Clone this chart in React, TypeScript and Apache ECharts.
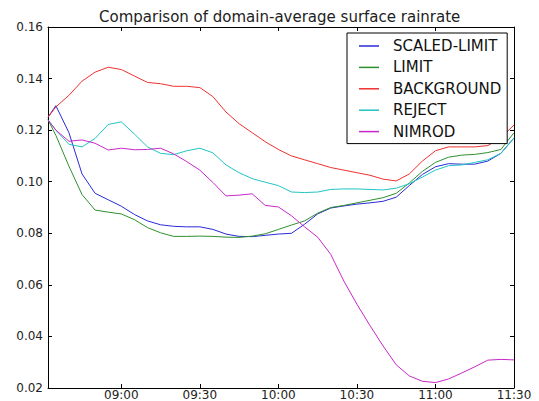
import React, { useEffect, useRef } from "react";
import * as echarts from "echarts";

// minutes since midnight
const times = [
  512, 515, 520, 525, 530, 535, 540, 545, 550, 555, 560, 565, 570, 575, 580, 585, 590, 595,
  600, 605, 610, 615, 620, 625, 630, 635, 640, 645, 650, 655, 660, 665, 670, 675, 680, 685, 690,
];

const scaledLimit = [
  0.125, 0.1295, 0.119, 0.103, 0.0955, 0.093, 0.0905, 0.0873, 0.0848, 0.0833, 0.0827, 0.0825,
  0.0825, 0.0815, 0.0797, 0.0788, 0.0787, 0.0792, 0.0797, 0.08, 0.0835, 0.0875, 0.0898, 0.0906,
  0.0913, 0.0918, 0.0924, 0.094, 0.0985, 0.1028, 0.1058, 0.107, 0.1068, 0.1068, 0.108, 0.111, 0.117,
];

const limit = [
  0.124, 0.118, 0.106, 0.095, 0.089, 0.0882, 0.0875, 0.0853, 0.0822, 0.0802, 0.0788, 0.0788,
  0.0789, 0.0788, 0.0785, 0.0784, 0.0789, 0.0798, 0.0815, 0.0832, 0.0848, 0.0878, 0.09, 0.0908,
  0.0918, 0.0928, 0.0938, 0.0955, 0.0995, 0.104, 0.1075, 0.1095, 0.1103, 0.1106, 0.1113, 0.1125, 0.119,
];

const background = [
  0.125, 0.129, 0.1335, 0.139, 0.1425, 0.1444, 0.1435, 0.141, 0.1385, 0.138, 0.137, 0.137,
  0.1365, 0.133, 0.127, 0.1225, 0.119, 0.1155, 0.1125, 0.11, 0.1085, 0.107, 0.1055, 0.1045,
  0.1035, 0.1025, 0.101, 0.1003, 0.103, 0.108, 0.112, 0.1135, 0.1135, 0.1135, 0.114, 0.117, 0.122,
];

const reject = [
  0.124, 0.12, 0.1145, 0.1135, 0.1168, 0.1222, 0.1232, 0.1185, 0.1135, 0.111, 0.1105, 0.112,
  0.113, 0.1112, 0.1065, 0.1035, 0.1012, 0.0998, 0.0985, 0.096, 0.0958, 0.096, 0.097, 0.0972,
  0.0972, 0.097, 0.0968, 0.0975, 0.0992, 0.1018, 0.1045, 0.1062, 0.1065, 0.1075, 0.1085, 0.111, 0.117,
];

const nimrod = [
  0.124, 0.12, 0.1157, 0.1162, 0.1149, 0.1123, 0.113, 0.1124, 0.1125, 0.113, 0.1108, 0.1078,
  0.1045, 0.0997, 0.0945, 0.0948, 0.0953, 0.0908, 0.0902, 0.0868, 0.0825, 0.0785, 0.0718, 0.0615,
  0.0525, 0.0442, 0.0363, 0.029, 0.0247, 0.0226, 0.0221, 0.0235, 0.0258, 0.0282, 0.0308, 0.0311, 0.0309,
];

const seriesNames = ["SCALED-LIMIT", "LIMIT", "BACKGROUND", "REJECT", "NIMROD"];
const seriesValues = [scaledLimit, limit, background, reject, nimrod];
const seriesColors = ["#2a2ad8", "#2f8f2f", "#f03030", "#22c4c4", "#c828c8"];

const xTickValues = [540, 570, 600, 630, 660, 690];
const yMin = 0.02;
const yMax = 0.16;
const yStep = 0.02;
const xMin = 512;
const xMax = 690;

const titleText = "Comparison of domain-average surface rainrate";

const FONT = "DejaVu Sans";

function fmtTime(v: number): string {
  const h = Math.floor(v / 60);
  const m = Math.round(v - h * 60);
  return String(h).padStart(2, "0") + ":" + String(m).padStart(2, "0");
}

export default function App() {
  const ref = useRef<HTMLDivElement>(null);

  useEffect(() => {
    if (!ref.current) return;
    const chart = echarts.init(ref.current, null, { renderer: "svg" });

    const axisLine = { show: true, lineStyle: { color: "#000", width: 1 } };
    const tick = { show: true, inside: true, length: 4, lineStyle: { color: "#000", width: 1 } };

    const option: any = {
      animation: false,
      backgroundColor: "#fff",
      title: {
        text: titleText,
        left: 99,
        top: 9,
        padding: 0,
        textStyle: { fontFamily: FONT, fontSize: 15, fontWeight: "normal", color: "#222" },
      },
      legend: {
        data: seriesNames,
        orient: "vertical",
        left: 347,
        top: 33,
        padding: [5, 6, 4, 12],
        icon: "rect",
        itemWidth: 20,
        itemHeight: 1.5,
        itemGap: 5.4,
        borderColor: "#000",
        borderWidth: 1,
        borderRadius: 0,
        backgroundColor: "#fff",
        z: 10,
        textStyle: {
          fontFamily: FONT,
          fontSize: 15,
          lineHeight: 16,
          color: "#111",
          padding: [0, 0, 0, 9],
        },
      },
      grid: {
        left: 48,
        right: 25,
        top: 27,
        bottom: 13,
        containLabel: false,
        outerBoundsMode: "none",
      },
      xAxis: [
        {
          type: "value",
          min: xMin,
          max: xMax,
          position: "bottom",
          axisLine,
          axisTick: { ...tick, customValues: xTickValues },
          splitLine: { show: false },
          axisLabel: {
            customValues: xTickValues,
            formatter: (v: number) => fmtTime(v),
            fontFamily: FONT,
            fontSize: 12,
            lineHeight: 12,
            color: "#222",
            margin: 1,
          },
        },
        {
          type: "value",
          min: xMin,
          max: xMax,
          position: "top",
          axisLine,
          axisTick: { ...tick, customValues: xTickValues },
          splitLine: { show: false },
          axisLabel: { show: false },
        },
      ],
      yAxis: [
        {
          type: "value",
          min: yMin,
          max: yMax,
          interval: yStep,
          position: "left",
          axisLine,
          axisTick: tick,
          splitLine: { show: false },
          axisLabel: {
            formatter: (v: number) => v.toFixed(2),
            fontFamily: FONT,
            fontSize: 12,
            color: "#222",
            margin: 5,
          },
        },
        {
          type: "value",
          min: yMin,
          max: yMax,
          interval: yStep,
          position: "right",
          axisLine,
          axisTick: tick,
          splitLine: { show: false },
          axisLabel: { show: false },
        },
      ],
      series: seriesNames.map((name, i) => ({
        name,
        type: "line",
        xAxisIndex: 0,
        yAxisIndex: 0,
        symbol: "none",
        smooth: false,
        data: times.map((t, j) => [t, seriesValues[i][j]]),
        lineStyle: { color: seriesColors[i], width: 1 },
        itemStyle: { color: seriesColors[i] },
      })),
    };

    chart.setOption(option);
    return () => chart.dispose();
  }, []);

  return (
    <div
      ref={ref}
      style={{ position: "fixed", left: 0, top: 0, width: 539, height: 401 }}
    />
  );
}
